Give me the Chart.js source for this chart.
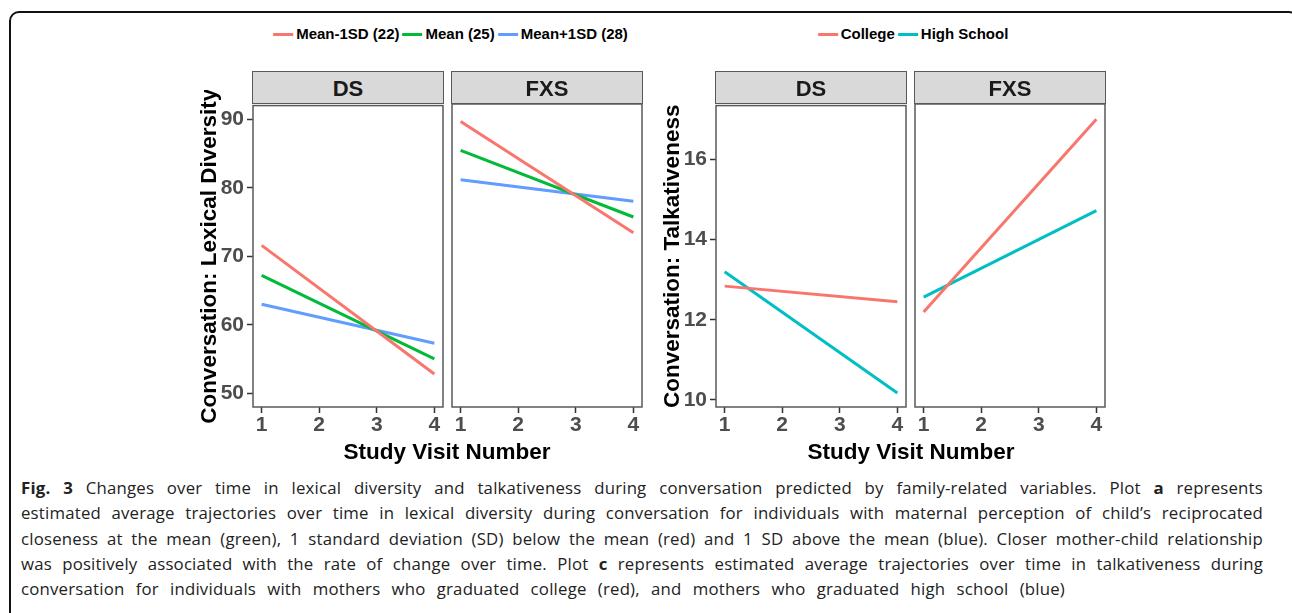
<!DOCTYPE html>
<html>
<head>
<meta charset="utf-8">
<script src="https://cdn.jsdelivr.net/npm/chart.js@4.4.1/dist/chart.umd.min.js"></script>
<style>
  body { margin: 0; background: #fff; width: 1292px; height: 613px; overflow: hidden; position: relative;
         font-family: "Liberation Sans", Arial, sans-serif; }
  #frame { position: absolute; left: 9px; top: 11px; width: 1290px; height: 700px;
           border: 2px solid #111; border-radius: 10px; box-sizing: border-box; }
  canvas { position: absolute; }
  .strip { position: absolute; top: 71px; height: 33px; background: #d9d9d9; border: 1.5px solid #595959;
           box-sizing: border-box; display: flex; align-items: center; justify-content: center;
           font-weight: bold; font-size: 22px; color: #1a1a1a; padding-top: 2px; }
  .xtitle { position: absolute; top: 438px; font-weight: bold; font-size: 22.5px; line-height: 27px;
            transform: translateX(-50%); white-space: nowrap; color: #000; }
  .legend { position: absolute; top: 25px; height: 18px; display: flex; align-items: center;
            transform: translateX(-50%); font-weight: bold; font-size: 15px; line-height: 18px;
            white-space: nowrap; color: #000; }
  .legend .key { width: 20px; height: 3px; margin: 0 3px 0 3px; }
  #caption { position: absolute; left: 21px; top: 475px; width: 1242px; font-family: "Open Sans", sans-serif;
             font-size: 16.8px; letter-spacing: 0.2px; line-height: 25.3px; color: #222; }
  #caption .ln { text-align: justify; text-align-last: justify; }
  #caption .ln.last { width: 1044px; }
</style>
</head>
<body>
<div id="frame"></div>

<canvas id="lexDS"></canvas>
<canvas id="lexFXS"></canvas>
<canvas id="talkDS"></canvas>
<canvas id="talkFXS"></canvas>

<div id="caption">
  <div class="ln"><b>Fig. 3</b> Changes over time in lexical diversity and talkativeness during conversation predicted by family-related variables. Plot <b>a</b> represents</div>
  <div class="ln">estimated average trajectories over time in lexical diversity during conversation for individuals with maternal perception of child’s reciprocated</div>
  <div class="ln">closeness at the mean (green), 1 standard deviation (SD) below the mean (red) and 1 SD above the mean (blue). Closer mother-child relationship</div>
  <div class="ln">was positively associated with the rate of change over time. Plot <b>c</b> represents estimated average trajectories over time in talkativeness during</div>
  <div class="ln last">conversation for individuals with mothers who graduated college (red), and mothers who graduated high school (blue)</div>
</div>

<script>
// x values of the fitted lines (start and end visit)
const visits = [1, 4];
const visitTicks = [1, 2, 3, 4];
const facets = ['DS', 'FXS'];

// plot a: lexical diversity by maternal closeness
const closenessNames = ['Mean-1SD (22)', 'Mean (25)', 'Mean+1SD (28)'];
const lexicalDsMinus = [71.6, 52.8];
const lexicalDsMean = [67.2, 55.0];
const lexicalDsPlus = [63.0, 57.3];
const lexicalFxsMinus = [89.5, 73.3];
const lexicalFxsMean = [85.3, 75.6];
const lexicalFxsPlus = [81.0, 77.9];
const lexicalTicks = [50, 60, 70, 80, 90];

// plot c: talkativeness by maternal education
const educationNames = ['College', 'High School'];
const talkDsCollege = [12.84, 12.45];
const talkDsHigh = [13.2, 10.17];
const talkFxsCollege = [12.18, 16.97];
const talkFxsHigh = [12.55, 14.7];
const talkTicks = [10, 12, 14, 16];

const colors3 = ['#F8766D', '#00BA38', '#619CFF'];
const colors2 = ['#F8766D', '#00BFC4'];

const PAD = 14;
const X_AXIS_H = 34;
const Y_AXIS_W = 57;

Chart.defaults.font.family = '"Liberation Sans", Arial, sans-serif';
Chart.defaults.font.weight = 'bold';

const panelBorder = {
    id: 'panelBorder',
    afterDraw(chart) {
        const { ctx, chartArea: a } = chart;
        ctx.save();
        ctx.strokeStyle = '#595959';
        ctx.lineWidth = 1.5;
        ctx.strokeRect(a.left, a.top, a.right - a.left, a.bottom - a.top);
        ctx.restore();
    }
};

function makePanel(id, rect, showY, names, seriesList, cols, yMin, yMax, yTicks, yTitle) {
    const yw = showY ? Y_AXIS_W : 0;
    const canvas = document.getElementById(id);
    const w = (rect.x1 - rect.x0) + yw + PAD * 2;
    const h = (rect.y1 - rect.y0) + PAD + X_AXIS_H + 4;
    canvas.width = w;
    canvas.height = h;
    canvas.style.left = (rect.x0 - yw - PAD) + 'px';
    canvas.style.top = (rect.y0 - PAD) + 'px';

    const datasets = seriesList.map((vals, i) => ({
        label: names[i],
        data: vals.map((v, j) => ({ x: visits[j], y: v })),
        borderColor: cols[i],
        borderWidth: 3,
        borderCapStyle: 'butt',
        pointRadius: 0,
        fill: false
    }));

    return new Chart(canvas.getContext('2d'), {
        type: 'line',
        data: { datasets: datasets },
        options: {
            responsive: false,
            animation: false,
            devicePixelRatio: 1,
            layout: { padding: { left: PAD, right: PAD, top: PAD, bottom: 4 } },
            plugins: { legend: { display: false }, tooltip: { enabled: false } },
            scales: {
                x: {
                    type: 'linear',
                    min: 0.85,
                    max: 4.15,
                    afterBuildTicks: s => { s.ticks = visitTicks.map(v => ({ value: v })); },
                    afterFit: s => { s.height = X_AXIS_H; },
                    grid: { drawOnChartArea: false, drawTicks: true, tickLength: 6, tickWidth: 1.5, tickColor: '#333' },
                    border: { display: false },
                    ticks: { color: '#4D4D4D', font: { size: 21, weight: 'bold' }, padding: 0, maxRotation: 0 }
                },
                y: {
                    display: showY,
                    min: yMin,
                    max: yMax,
                    afterBuildTicks: s => { s.ticks = yTicks.map(v => ({ value: v })); },
                    afterFit: s => { s.width = yw; },
                    grid: { drawOnChartArea: false, drawTicks: true, tickLength: 6, tickWidth: 1.5, tickColor: '#333' },
                    border: { display: false },
                    ticks: { color: '#4D4D4D', font: { size: 21, weight: 'bold' }, padding: 3 },
                    title: { display: true, text: yTitle, color: '#000', font: { size: 22.5, weight: 'bold' }, padding: 0 }
                }
            }
        },
        plugins: [panelBorder]
    });
}

function addStrip(rect, text) {
    const d = document.createElement('div');
    d.className = 'strip';
    d.style.left = (rect.x0 - 0.75) + 'px';
    d.style.width = (rect.x1 - rect.x0 + 1.5) + 'px';
    d.textContent = text;
    document.body.appendChild(d);
}

function addXTitle(center, text) {
    const d = document.createElement('div');
    d.className = 'xtitle';
    d.style.left = center + 'px';
    d.textContent = text;
    document.body.appendChild(d);
}

function addLegend(center, names, cols) {
    const d = document.createElement('div');
    d.className = 'legend';
    d.style.left = center + 'px';
    names.forEach((n, i) => {
        const k = document.createElement('span');
        k.className = 'key';
        k.style.background = cols[i];
        const t = document.createElement('span');
        t.textContent = n;
        d.appendChild(k);
        d.appendChild(t);
    });
    document.body.appendChild(d);
}

const lexRectDS = { x0: 253, x1: 443, y0: 104, y1: 407 };
const lexRectFXS = { x0: 452, x1: 642, y0: 104, y1: 407 };
const talkRectDS = { x0: 716, x1: 906, y0: 104, y1: 407 };
const talkRectFXS = { x0: 915, x1: 1105, y0: 104, y1: 407 };

makePanel('lexDS', lexRectDS, true, closenessNames, [lexicalDsMinus, lexicalDsMean, lexicalDsPlus], colors3,
    47.97, 92.03, lexicalTicks, 'Conversation: Lexical Diversity');
makePanel('lexFXS', lexRectFXS, false, closenessNames, [lexicalFxsMinus, lexicalFxsMean, lexicalFxsPlus], colors3,
    47.97, 92.03, lexicalTicks, '');
makePanel('talkDS', talkRectDS, true, educationNames, [talkDsCollege, talkDsHigh], colors2,
    9.82, 17.35, talkTicks, 'Conversation: Talkativeness');
makePanel('talkFXS', talkRectFXS, false, educationNames, [talkFxsCollege, talkFxsHigh], colors2,
    9.82, 17.35, talkTicks, '');

addStrip(lexRectDS, facets[0]);
addStrip(lexRectFXS, facets[1]);
addStrip(talkRectDS, facets[0]);
addStrip(talkRectFXS, facets[1]);

addXTitle(447, 'Study Visit Number');
addXTitle(911, 'Study Visit Number');

addLegend(449, closenessNames, colors3);
addLegend(911.5, educationNames, colors2);
</script>
</body>
</html>
